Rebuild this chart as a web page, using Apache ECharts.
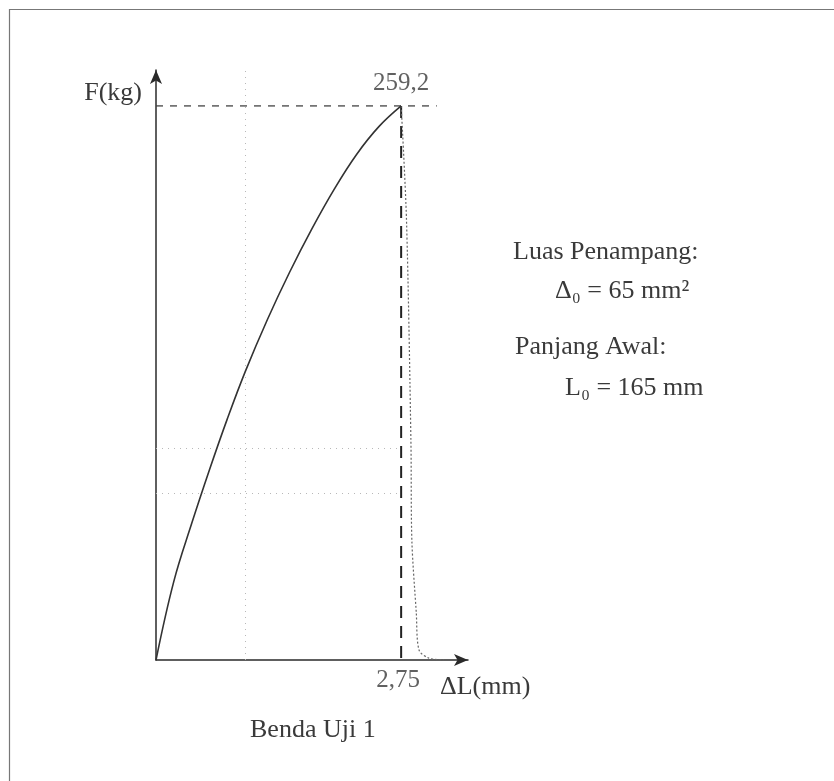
<!DOCTYPE html>
<html>
<head>
<meta charset="utf-8">
<title>Benda Uji 1</title>
<script src="https://cdn.jsdelivr.net/npm/echarts@6/dist/echarts.min.js"></script>
<style>
  html, body { margin: 0; padding: 0; background: #fff; }
  #chart { width: 834px; height: 781px; }
</style>
</head>
<body>
<div id="chart"></div>
<script>
// Load–elongation record of test piece 1 (F in kg, ΔL in mm)
const peakDL = 2.75;
const peakF = 259.2;

// rising (loading) branch up to the maximum load
const loadDL = [0, 0.2, 0.4, 0.6, 0.8, 1.0, 1.25, 1.5, 1.75, 2.0, 2.25, 2.5, 2.75];
const loadF  = [0, 36.8, 63.8, 89, 112.8, 134.8, 159.3, 181.5, 201.8, 220.3, 236.5, 249.5, 259.2];

// drop after the maximum, down to fracture
const dropDL = [2.75, 2.81, 2.86, 2.87, 2.92, 2.95, 3.06, 3.23];
const dropF  = [259.2, 205.9, 101.5, 56.2, 22, 4.7, 0.9, 0];

// faint background guide lines
const faintX = [1.0];
const faintY = [78, 99];

// axis extents and the reach of the horizontal peak guide
const axisMaxDL = 3.5;
const axisMaxF = 276;
const peakGuideEnd = 3.15;

// specimen data text
const specTitle = 'Benda Uji 1';
const areaLabel = 'Luas Penampang:';
const areaValue = 'Δ₀ = 65 mm²';
const lengthLabel = 'Panjang Awal:';
const lengthValue = 'L₀ = 165 mm';
const yName = 'F(kg)';
const xName = 'ΔL(mm)';

const fmt = v => String(v).replace('.', ',');
const zip = (a, b) => a.map((v, i) => [v, b[i]]);

const FONT = "'Liberation Serif', 'DejaVu Serif', serif";
const INK = '#2a2a2a';
const TEXT = '#3a3a3a';

const chart = echarts.init(document.getElementById('chart'), null, { renderer: 'canvas' });

const option = {
  animation: false,
  backgroundColor: '#ffffff',
  grid: { left: 156, top: 70, width: 312, height: 590 },
  xAxis: {
    type: 'value', min: 0, max: axisMaxDL,
    axisLine: { show: true, symbol: ['none', 'arrow'], symbolSize: [9, 14],
      lineStyle: { color: INK, width: 1.5 } },
    axisTick: { show: false }, axisLabel: { show: false }, splitLine: { show: false }
  },
  yAxis: {
    type: 'value', min: 0, max: axisMaxF,
    axisLine: { show: true, symbol: ['none', 'arrow'], symbolSize: [9, 14],
      lineStyle: { color: INK, width: 1.5 } },
    axisTick: { show: false }, axisLabel: { show: false }, splitLine: { show: false }
  },
  series: [
    {
      name: 'guides', type: 'line', data: [], silent: true,
      markLine: {
        silent: true, symbol: 'none', label: { show: false },
        lineStyle: { color: '#b8b8b8', type: [1, 5], width: 1 },
        data: [
          ...faintX.map(v => [{ coord: [v, 0] }, { coord: [v, axisMaxF] }]),
          ...faintY.map(v => [{ coord: [0, v] }, { coord: [peakDL, v] }])
        ]
      }
    },
    {
      name: 'peak load guide', type: 'line', silent: true, symbol: 'none',
      data: [[0, peakF], [peakGuideEnd, peakF]],
      lineStyle: { color: '#444', width: 1.3, type: [7, 7] }
    },
    {
      name: 'peak elongation guide', type: 'line', silent: true, symbol: 'none',
      data: [[peakDL, peakF], [peakDL, 0]],
      lineStyle: { color: '#222', width: 2, type: [12, 8] }
    },
    {
      name: 'loading', type: 'line', smooth: 0.4, symbol: 'none',
      data: zip(loadDL, loadF),
      lineStyle: { color: '#333', width: 1.6 },
      z: 5
    },
    {
      name: 'fracture', type: 'line', smooth: 0.3, symbol: 'none',
      data: zip(dropDL, dropF),
      lineStyle: { color: '#666', width: 1.2, type: [2, 2] },
      z: 4
    },
    {
      name: 'values', type: 'scatter', symbolSize: 0, silent: true,
      data: [
        { value: [peakDL, peakF], label: { show: true, position: 'top', distance: 10,
          formatter: () => fmt(peakF) } },
        { value: [peakDL, 0], label: { show: true, position: 'bottom', distance: 8, offset: [-3, 0],
          formatter: () => fmt(peakDL) } }
      ],
      label: { fontFamily: FONT, fontSize: 25, color: TEXT }
    }
  ]
};
chart.setOption(option);

// axis names, specimen data and the sheet frame
const origin = chart.convertToPixel({ gridIndex: 0 }, [0, 0]);
const yEnd = chart.convertToPixel({ gridIndex: 0 }, [0, axisMaxF]);
const xEnd = chart.convertToPixel({ gridIndex: 0 }, [axisMaxDL, 0]);

const txt = (text, x, y, align) => ({
  type: 'text', x, y, silent: true,
  style: { text, fill: TEXT, font: '26px ' + FONT, align: align || 'left', verticalAlign: 'middle' }
});

chart.setOption({
  graphic: [
    { type: 'rect', silent: true, shape: { x: 9.5, y: 9.5, width: 900, height: 900 },
      style: { fill: 'none', stroke: '#777', lineWidth: 1.2 } },
    txt(yName, yEnd[0] - 14, yEnd[1] + 23, 'right'),
    txt(xName, xEnd[0] - 28, origin[1] + 27, 'left'),
    txt(specTitle, origin[0] + 94, origin[1] + 70, 'left'),
    txt(areaLabel, 513, 252),
    txt(areaValue, 555, 291),
    txt(lengthLabel, 515, 347),
    txt(lengthValue, 565, 388)
  ]
});
</script>
</body>
</html>
